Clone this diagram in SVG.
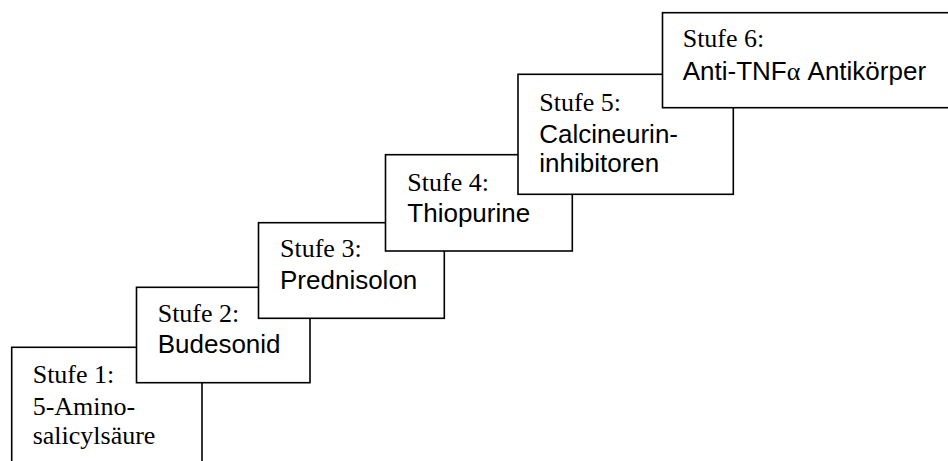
<svg xmlns="http://www.w3.org/2000/svg" width="948" height="461" viewBox="0 0 948 461">
<style>
.box{fill:#fff;stroke:#000;stroke-width:1.6}
.s{font-family:"Liberation Serif","Times New Roman",serif;font-size:26px;fill:#000}
.a{font-family:"Liberation Sans",Arial,sans-serif;font-size:26px;fill:#000}
</style>
<rect width="948" height="461" fill="#fff"/>
<g id="connectors"></g>
<g id="stufe1">
<rect class="box" x="11.7" y="347.3" width="190.3" height="130"/>
<text class="s" x="32.7" y="382.5">Stufe 1:</text>
<text class="s" x="32.7" y="415">5-Amino-</text>
<text class="s" x="32.7" y="443.5">salicylsäure</text>
</g>
<g id="stufe2">
<rect class="box" x="136.5" y="287.3" width="173.5" height="95.4"/>
<text class="s" x="157.7" y="322">Stufe 2:</text>
<text class="a" x="157.7" y="353">Budesonid</text>
</g>
<g id="stufe3">
<rect class="box" x="258.5" y="222.7" width="185.8" height="95.6"/>
<text class="s" x="280" y="257.3">Stufe 3:</text>
<text class="a" x="280" y="289">Prednisolon</text>
</g>
<g id="stufe4">
<rect class="box" x="385.5" y="154.7" width="186.8" height="96.3"/>
<text class="s" x="407.3" y="190.5">Stufe 4:</text>
<text class="a" x="407.3" y="222">Thiopurine</text>
</g>
<g id="stufe5">
<rect class="box" x="518" y="74.3" width="215.3" height="120"/>
<text class="s" x="539.3" y="111">Stufe 5:</text>
<text class="a" x="539.3" y="143">Calcineurin-</text>
<text class="a" x="539.3" y="172">inhibitoren</text>
</g>
<g id="stufe6">
<rect class="box" x="662.5" y="12.7" width="300" height="95"/>
<text class="s" x="682.7" y="47.3">Stufe 6:</text>
<text class="a" x="682.7" y="80">Anti-TNF<tspan font-family="'Liberation Serif','Times New Roman',serif">α</tspan> Antikörper</text>
</g>
</svg>
